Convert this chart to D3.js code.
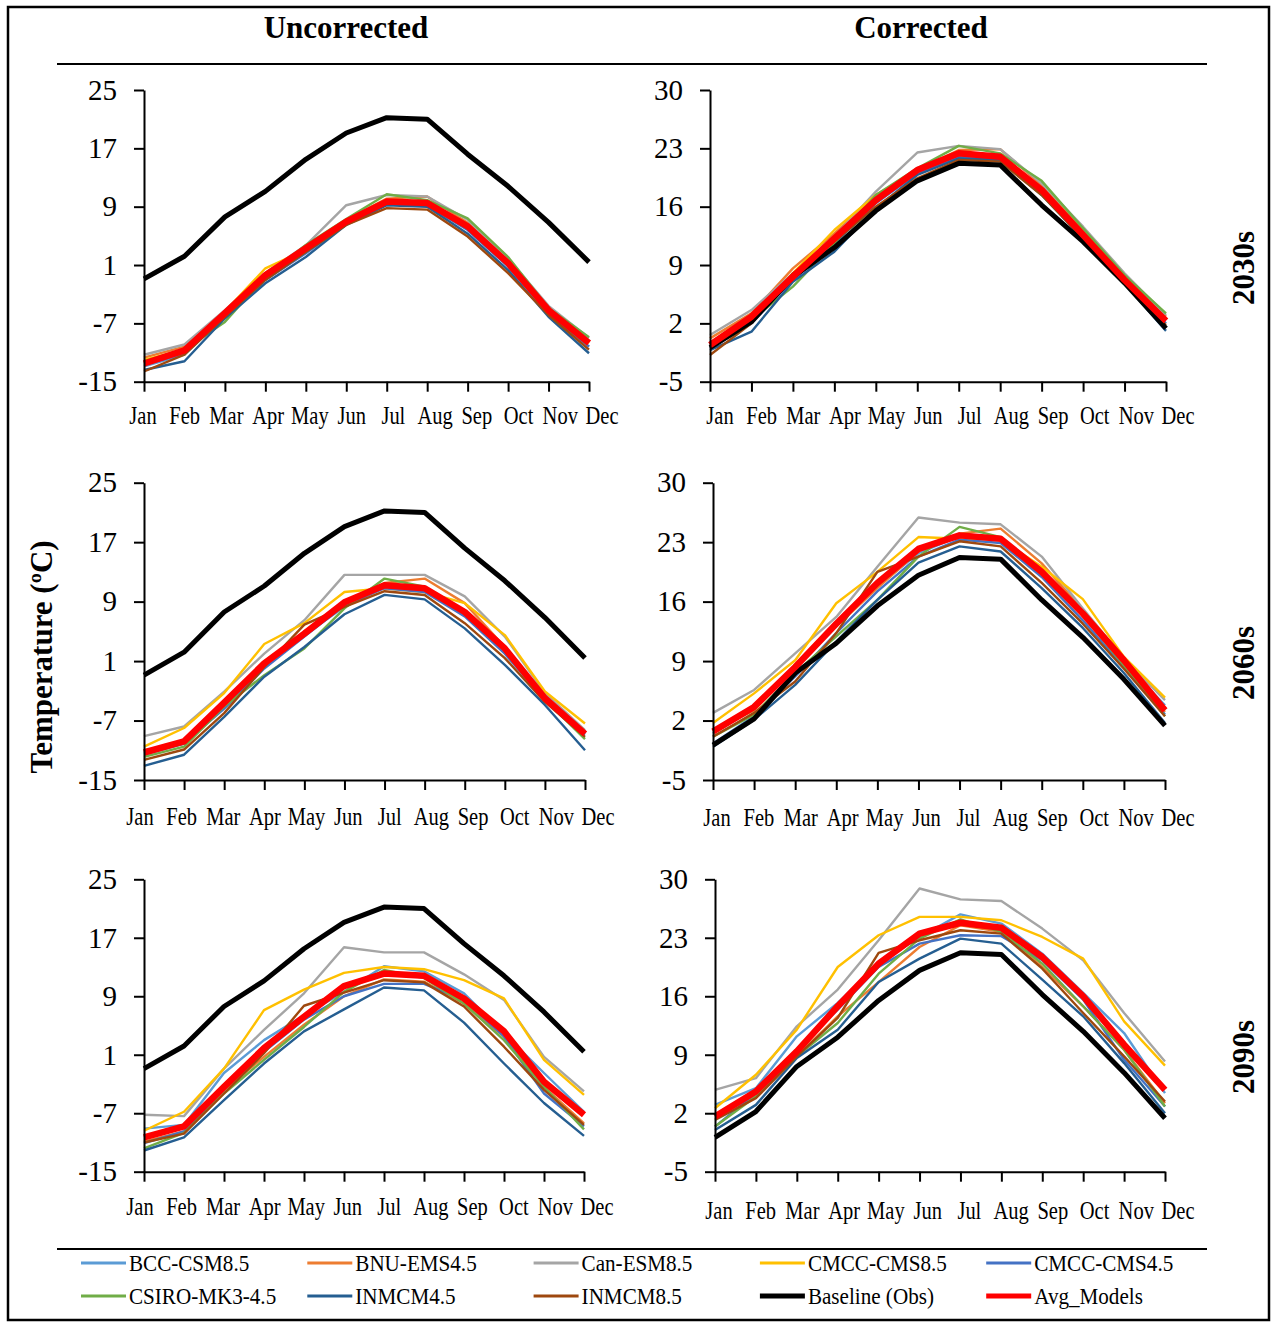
<!DOCTYPE html>
<html>
<head>
<meta charset="utf-8">
<script src="https://d3js.org/d3.v7.min.js"></script>
<style>
  body { margin: 0; background: #fff; }
  text { font-family: "Liberation Serif", "Times New Roman", serif; fill: #000; }
</style>
</head>
<body>
<script>

// ---- data ----
const months = ['Jan','Feb','Mar','Apr','May','Jun','Jul','Aug','Sep','Oct','Nov','Dec'];
const models = ['BCC-CSM8.5','BNU-EMS4.5','Can-ESM8.5','CMCC-CMS8.5','CMCC-CMS4.5','CSIRO-MK3-4.5','INMCM4.5','INMCM8.5'];
const leftTicks = [-15, -7, 1, 9, 17, 25];
const rightTicks = [-5, 2, 9, 16, 23, 30];

const baseline = [-0.9, 2.2, 7.6, 11.1, 15.5, 19.1, 21.2, 21.0, 16.2, 11.8, 6.85, 1.4];

// uncorrected 2030s (model order as in `models`)
const unc2030 = [
  [-12.9,-11.3,-5.85,-0.6,3.1,6.7,9.7,9.5,6.0,1.0,-5.4,-10.2],
  [-11.7,-10.2,-5.3,-0.1,3.5,7.2,10.1,10.4,6.8,1.5,-4.9,-9.5],
  [-11.3,-9.9,-5.2,-0.1,3.7,9.2,10.6,10.4,7.2,1.9,-4.6,-9.0],
  [-12.0,-10.6,-5.4,0.55,3.1,6.9,9.9,9.7,6.5,1.2,-5.2,-9.7],
  [-12.7,-11.1,-6.1,-1.05,2.6,6.6,9.5,9.2,5.8,0.8,-5.6,-10.2],
  [-12.2,-10.6,-6.8,-0.6,3.75,7.3,10.7,9.9,7.4,2.1,-4.9,-8.9],
  [-13.4,-12.2,-6.3,-1.5,2.1,6.5,9.2,9.0,5.3,0.3,-6.1,-11.1],
  [-13.6,-11.3,-6.1,-1.05,2.8,6.5,8.8,8.6,4.9,-0.1,-5.85,-10.6]
];
const unc2030Avg = [-12.5,-10.7,-5.6,-0.4,3.3,6.95,9.7,9.5,6.3,1.25,-5.2,-9.7];

// corrected 2030s
const cor2030 = [
  [-0.4,3.0,7.6,12.0,16.6,20.2,22.2,21.8,17.8,12.6,7.2,2.6],
  [0.2,3.2,8.6,12.8,17.2,20.4,22.8,22.9,18.6,13.2,7.6,2.8],
  [0.6,3.6,8.0,12.4,17.8,22.5,23.3,22.9,18.8,13.6,8.0,3.0],
  [-0.4,2.6,8.0,13.2,17.4,20.4,22.4,22.2,18.2,12.8,7.2,2.4],
  [-1.0,2.0,7.2,11.6,16.4,20.0,22.0,21.6,17.6,12.4,7.0,2.0],
  [-0.8,2.4,6.4,11.6,17.4,20.6,23.3,22.4,19.1,13.4,7.8,3.2],
  [-1.2,1.0,7.0,10.6,15.8,19.8,21.8,21.6,17.4,12.2,6.8,1.1],
  [-1.8,2.0,8.0,11.8,16.0,19.4,21.6,21.4,17.4,12.2,7.0,1.8]
];
const cor2030Avg = [-0.6,2.8,7.6,12.2,16.8,20.4,22.4,22.0,18.0,12.6,7.2,2.3];

// uncorrected 2060s
const unc2060 = [
  [-11.6,-10.1,-4.9,0.5,4.5,8.3,11.0,10.6,7.4,2.5,-3.8,-8.5],
  [-11.0,-10.1,-4.9,0.5,5.0,8.3,11.5,12.1,8.8,2.9,-3.8,-8.5],
  [-9.1,-7.8,-3.1,2.0,6.5,12.6,12.6,12.6,9.7,4.3,-3.3,-8.3],
  [-10.5,-8.0,-3.3,3.3,6.1,10.3,10.8,10.3,8.8,4.5,-3.1,-7.4],
  [-11.4,-10.1,-5.4,0.0,4.3,8.5,10.8,10.3,7.0,2.0,-4.2,-8.9],
  [-11.9,-10.5,-5.1,-0.9,2.7,8.1,12.1,11.0,7.4,2.5,-4.2,-9.5],
  [-13.1,-11.6,-6.5,-1.1,2.9,7.3,9.9,9.3,5.4,0.5,-4.9,-11.0],
  [-12.3,-10.9,-6.0,0.2,5.9,8.3,10.4,9.9,6.1,1.4,-4.5,-9.2]
];
const unc2060Avg = [-11.3,-9.8,-4.6,0.7,4.7,8.9,11.2,10.8,7.6,2.7,-4.0,-8.8];

// corrected 2060s
const cor2060 = [
  [0.5,3.4,8.1,13.1,17.8,21.7,23.7,23.3,19.3,14.4,8.9,3.8],
  [0.9,3.2,8.3,13.1,17.6,21.9,24.0,24.6,20.5,15.0,9.1,3.0],
  [2.9,5.6,9.9,14.2,20.1,25.9,25.3,25.1,21.3,15.2,9.3,4.4],
  [1.7,5.2,9.1,15.8,19.5,23.6,23.4,23.3,20.1,16.3,9.5,4.7],
  [-0.7,2.5,7.2,12.3,17.2,21.3,23.3,22.9,18.9,13.8,8.3,2.7],
  [0.1,2.7,7.6,11.9,16.2,21.3,24.8,23.6,19.7,14.4,8.5,2.5],
  [-1.1,2.1,6.2,11.3,16.2,20.6,22.5,21.9,17.6,12.9,7.6,1.7],
  [0.1,2.9,6.6,12.3,19.5,21.3,23.1,22.5,18.2,13.4,8.1,2.5]
];
const cor2060Avg = [0.7,3.6,8.3,13.4,18.2,22.2,23.8,23.4,19.5,14.6,9.1,3.2];

// uncorrected 2090s
const unc2090 = [
  [-9.1,-8.6,-1.5,3.0,6.4,9.6,13.1,12.4,9.4,3.9,-1.5,-6.8],
  [-10.9,-9.5,-3.8,0.7,5.1,9.0,11.3,11.0,8.0,3.5,-3.4,-8.4],
  [-7.2,-7.4,-0.9,4.4,9.4,15.7,15.0,15.0,12.0,8.5,0.7,-4.0],
  [-9.4,-6.8,-0.9,7.1,9.9,12.2,13.0,12.7,11.2,8.7,0.3,-4.5],
  [-11.1,-9.5,-3.6,1.4,5.8,9.0,10.7,10.7,8.5,3.5,-4.3,-8.8],
  [-11.8,-9.7,-4.3,0.3,4.8,9.6,12.6,11.5,8.0,3.0,-3.4,-9.2],
  [-12.1,-10.3,-5.2,-0.2,4.2,7.2,10.2,9.8,5.4,-0.2,-5.6,-10.1],
  [-11.0,-9.8,-4.3,1.2,7.7,9.5,11.2,10.9,7.6,2.1,-3.8,-8.6]
];
const unc2090Avg = [-10.3,-8.8,-3.4,1.9,6.2,10.4,12.1,11.8,8.7,4.2,-2.7,-7.2];

// corrected 2090s
const cor2090 = [
  [3.0,5.0,11.2,15.2,19.9,23.1,25.8,24.7,21.1,16.4,11.6,4.4],
  [1.6,4.0,8.8,13.6,17.7,21.9,24.5,23.7,19.5,14.8,9.6,3.2],
  [4.8,6.2,12.4,16.8,22.7,28.9,27.6,27.4,24.1,20.3,14.0,8.2],
  [2.6,6.6,12.0,19.5,23.3,25.5,25.5,25.1,23.1,20.5,13.0,7.7],
  [0.4,4.4,9.6,14.4,19.5,22.3,23.3,23.2,20.3,15.6,8.4,2.8],
  [0.4,4.0,8.8,12.8,18.7,22.9,25.2,23.7,19.9,14.8,9.6,2.8],
  [0.0,3.0,8.6,12.0,17.7,20.5,22.9,22.3,18.0,13.6,8.0,2.0],
  [1.2,3.8,8.8,13.4,21.2,22.7,23.9,23.5,19.3,14.0,8.8,3.4]
];
const cor2090Avg = [1.6,4.6,9.4,14.8,19.9,23.5,24.8,24.2,20.7,16.0,10.2,4.8];

// ---- styles ----
const colors = ['#5B9BD5','#ED7D31','#A5A5A5','#FFC000','#4472C4','#70AD47','#255E91','#9E480E'];
const baseColor = '#000000';
const avgColor = '#FF0000';

// panel layout: axis extents and label positions
const panels = [
  {data: unc2030, avg: unc2030Avg, ticks: leftTicks,  x0: 144, x1: 589,  y0: 90,    y1: 381.7,  lx0: 143, lx1: 602,  ly: 424},
  {data: cor2030, avg: cor2030Avg, ticks: rightTicks, x0: 710, x1: 1166, y0: 90,    y1: 381.7,  lx0: 720, lx1: 1178, ly: 424},
  {data: unc2060, avg: unc2060Avg, ticks: leftTicks,  x0: 144, x1: 585,  y0: 482.7, y1: 780,    lx0: 140, lx1: 598,  ly: 825},
  {data: cor2060, avg: cor2060Avg, ticks: rightTicks, x0: 713, x1: 1165, y0: 482.7, y1: 780,    lx0: 717, lx1: 1178, ly: 826},
  {data: unc2090, avg: unc2090Avg, ticks: leftTicks,  x0: 144, x1: 584,  y0: 879.3, y1: 1171.7, lx0: 140, lx1: 597,  ly: 1215},
  {data: cor2090, avg: cor2090Avg, ticks: rightTicks, x0: 715, x1: 1165, y0: 879.3, y1: 1171.7, lx0: 719, lx1: 1178, ly: 1219}
];

const svg = d3.select('body').append('svg')
  .attr('width', 1278)
  .attr('height', 1322);

// outer frame and separators
svg.append('rect')
  .attr('x', 8).attr('y', 7).attr('width', 1261).attr('height', 1313)
  .attr('fill', 'none').attr('stroke', '#000').attr('stroke-width', 2.5);

[64, 1249].forEach(yy => {
  svg.append('line')
    .attr('x1', 57).attr('x2', 1207).attr('y1', yy).attr('y2', yy)
    .attr('stroke', '#000').attr('stroke-width', 1.8);
});

// column titles
svg.append('text').attr('x', 346).attr('y', 38).attr('text-anchor', 'middle')
  .attr('font-size', 31).attr('font-weight', 'bold').text('Uncorrected');
svg.append('text').attr('x', 921).attr('y', 38).attr('text-anchor', 'middle')
  .attr('font-size', 31).attr('font-weight', 'bold').text('Corrected');

// y label
svg.append('text')
  .attr('transform', 'translate(52,657) rotate(-90)')
  .attr('text-anchor', 'middle')
  .attr('font-size', 31).attr('font-weight', 'bold')
  .text('Temperature (ºC)');

// row labels
[['2030s', 268], ['2060s', 663], ['2090s', 1057]].forEach(r => {
  svg.append('text')
    .attr('transform', 'translate(1254,' + r[1] + ') rotate(-90)')
    .attr('text-anchor', 'middle')
    .attr('font-size', 31).attr('font-weight', 'bold')
    .text(r[0]);
});

panels.forEach(p => {
  let x = d3.scalePoint().domain(months).range([p.x0, p.x1]);
  let xl = d3.scalePoint().domain(months).range([p.lx0, p.lx1]);
  let y = d3.scaleLinear().domain([p.ticks[0], p.ticks[p.ticks.length - 1]]).range([p.y1, p.y0]);

  let g = svg.append('g');

  let line = d3.line()
    .x((d, i) => x(months[i]))
    .y(d => y(d));

  // model series
  p.data.forEach((vals, i) => {
    g.append('path')
      .attr('d', line(vals))
      .attr('fill', 'none')
      .attr('stroke', colors[i])
      .attr('stroke-width', 2.4)
      .attr('stroke-linejoin', 'round');
  });

  g.append('path')
    .attr('d', line(baseline))
    .attr('fill', 'none').attr('stroke', baseColor)
    .attr('stroke-width', 5).attr('stroke-linejoin', 'round');

  g.append('path')
    .attr('d', line(p.avg))
    .attr('fill', 'none').attr('stroke', avgColor)
    .attr('stroke-width', 6.5).attr('stroke-linejoin', 'round');

  // axes
  let xAxis = g.append('g')
    .attr('transform', 'translate(0,' + p.y1 + ')')
    .call(d3.axisBottom(x).tickSize(10).tickSizeOuter(0).tickFormat(''));

  let yAxis = g.append('g')
    .attr('transform', 'translate(' + p.x0 + ',0)')
    .call(d3.axisLeft(y).tickValues(p.ticks).tickSize(10).tickSizeOuter(0)
      .tickPadding(17).tickFormat(d => String(d)));

  [xAxis, yAxis].forEach(a => {
    a.select('.domain').attr('stroke', '#000').attr('stroke-width', 2);
    a.selectAll('.tick line').attr('stroke', '#000').attr('stroke-width', 2);
  });
  yAxis.selectAll('text')
    .attr('font-size', 29)
    .attr('font-family', '"Liberation Serif", "Times New Roman", serif')
    .attr('fill', '#000');

  // month labels (narrow, as in the original)
  g.selectAll('.month')
    .data(months)
    .enter().append('text')
    .attr('class', 'month')
    .attr('transform', d => 'translate(' + xl(d) + ',' + p.ly + ') scale(0.82,1)')
    .attr('text-anchor', 'middle')
    .attr('font-size', 25)
    .text(d => d);
});

// legend
const legendNames = models.concat(['Baseline (Obs)', 'Avg_Models']);
const legendColors = colors.concat([baseColor, avgColor]);

legendNames.forEach((name, i) => {
  let col = i % 5;
  let row = Math.floor(i / 5);
  let lx = 81 + col * 226.3;
  let ly = 1263 + row * 33;
  svg.append('line')
    .attr('x1', lx).attr('x2', lx + 45).attr('y1', ly).attr('y2', ly)
    .attr('stroke', legendColors[i])
    .attr('stroke-width', i >= 8 ? 5 : 3);
  svg.append('text')
    .attr('transform', 'translate(' + (lx + 48) + ',' + (ly + 8) + ') scale(0.88,1)')
    .attr('font-size', 24)
    .text(name);
});

</script>
</body>
</html>
